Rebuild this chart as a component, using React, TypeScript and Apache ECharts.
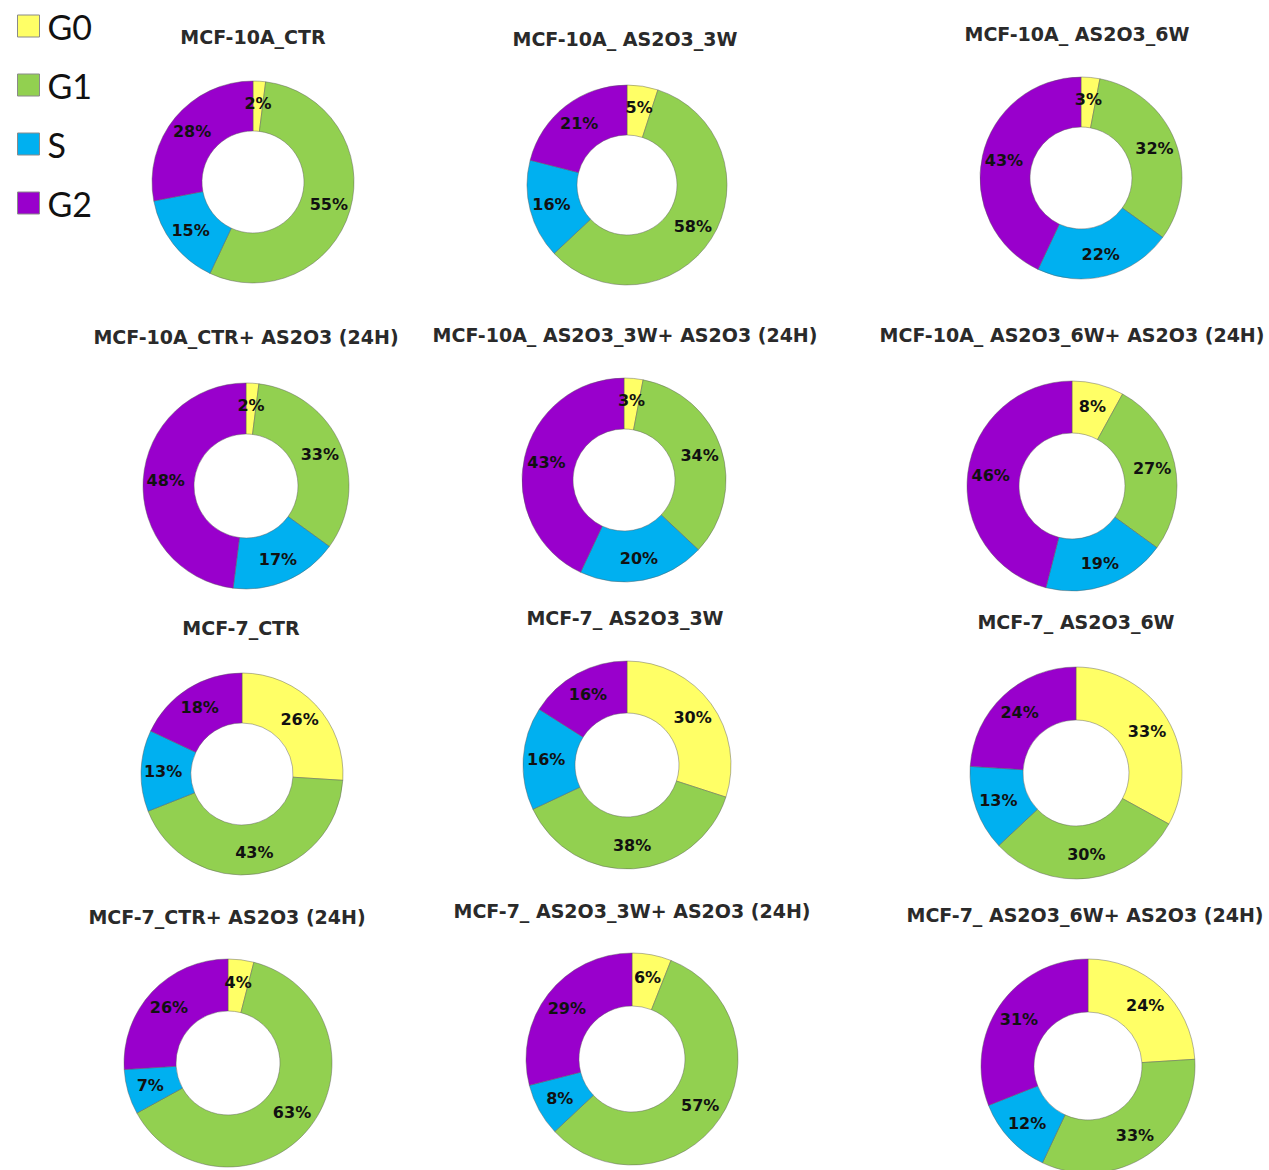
import React, { useEffect, useRef } from "react";
import * as echarts from "echarts";

const phases = ["G0", "G1", "S", "G2"];
const phaseColors = ["#FFFF66", "#92D050", "#00B0F0", "#9900CC"];

const titles = [
  "MCF-10A_CTR",
  "MCF-10A_ AS2O3_3W",
  "MCF-10A_ AS2O3_6W",
  "MCF-10A_CTR+ AS2O3 (24H)",
  "MCF-10A_ AS2O3_3W+ AS2O3 (24H)",
  "MCF-10A_ AS2O3_6W+ AS2O3 (24H)",
  "MCF-7_CTR",
  "MCF-7_ AS2O3_3W",
  "MCF-7_ AS2O3_6W",
  "MCF-7_CTR+ AS2O3 (24H)",
  "MCF-7_ AS2O3_3W+ AS2O3 (24H)",
  "MCF-7_ AS2O3_6W+ AS2O3 (24H)",
];

// percentages per chart: [G0, G1, S, G2]
const mcf10aCtr = [2, 55, 15, 28];
const mcf10a3w = [5, 58, 16, 21];
const mcf10a6w = [3, 32, 22, 43];
const mcf10aCtr24 = [2, 33, 17, 48];
const mcf10a3w24 = [3, 34, 20, 43];
const mcf10a6w24 = [8, 27, 19, 46];
const mcf7Ctr = [26, 43, 13, 18];
const mcf73w = [30, 38, 16, 16];
const mcf76w = [33, 30, 13, 24];
const mcf7Ctr24 = [4, 63, 7, 26];
const mcf73w24 = [6, 57, 8, 29];
const mcf76w24 = [24, 33, 12, 31];

const chartValues = [
  mcf10aCtr, mcf10a3w, mcf10a6w,
  mcf10aCtr24, mcf10a3w24, mcf10a6w24,
  mcf7Ctr, mcf73w, mcf76w,
  mcf7Ctr24, mcf73w24, mcf76w24,
];

// layout: title centre [x, y], donut centre [x, y], outer radius
const titlePos = [
  [253, 37], [625, 39], [1077, 34],
  [246, 337], [625, 335], [1072, 335],
  [241, 628], [625, 618], [1076, 622],
  [227, 917], [632, 911], [1085, 915],
];
const donutPos = [
  [253, 182, 101], [627, 185, 100], [1081, 178, 101],
  [246, 486, 103], [624, 480, 102], [1072, 486, 105],
  [242, 774, 101], [627, 765, 104], [1076, 773, 106],
  [228, 1063, 104], [632, 1059, 106], [1088, 1066, 107],
];

export default function App() {
  const ref = useRef<HTMLDivElement>(null);
  useEffect(() => {
    if (!ref.current) return;
    const chart = echarts.init(ref.current, null, { renderer: "svg" });
    const titleOpts = titles.map((t, i) => ({
      text: t,
      left: titlePos[i][0],
      top: titlePos[i][1] - 11,
      textAlign: "center",
      textStyle: {
        fontFamily: "DejaVu Sans",
        fontWeight: "bold",
        fontSize: 19,
        color: "#2a2a2a",
        lineHeight: 22,
      },
      padding: 0,
    }));
    const series = chartValues.map((vals, i) => ({
      type: "pie",
      center: [donutPos[i][0], donutPos[i][1]],
      radius: [Math.round(donutPos[i][2] * 0.5), donutPos[i][2]],
      startAngle: 90,
      clockwise: true,
      avoidLabelOverlap: false,
      silent: true,
      data: phases.map((p, k) => ({
        name: p,
        value: vals[k],
        itemStyle: { color: phaseColors[k] },
      })),
      itemStyle: { borderColor: "rgba(90,90,90,0.45)", borderWidth: 1 },
      label: {
        show: true,
        position: "inside",
        formatter: "{c}%",
        fontFamily: "DejaVu Sans",
        fontWeight: "bold",
        fontSize: 16,
        color: "#111",
      },
      labelLine: { show: false },
      emphasis: { disabled: true },
    }));
    chart.setOption({
      animation: false,
      backgroundColor: "#ffffff",
      title: titleOpts,
      legend: {
        orient: "vertical",
        left: 12,
        top: 4,
        itemWidth: 22,
        itemHeight: 22,
        itemGap: 25,
        icon: "rect",
        selectedMode: false,
        data: phases,
        itemStyle: { borderColor: "#8a8a8a", borderWidth: 1 },
        textStyle: {
          fontFamily: "Lato",
          fontSize: 34,
          lineHeight: 22,
          color: "#111",
          padding: [0, 0, 0, 3],
        },
      },
      series,
    });
    return () => chart.dispose();
  }, []);
  return (
    <div
      ref={ref}
      style={{ position: "absolute", left: 0, top: 0, width: 1269, height: 1170 }}
    />
  );
}
